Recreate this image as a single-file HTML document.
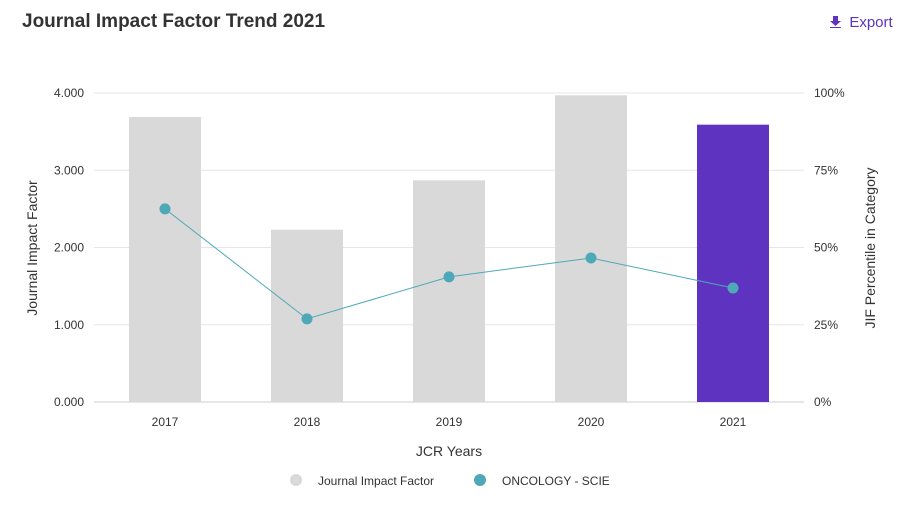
<!DOCTYPE html>
<html><head><meta charset="utf-8">
<style>
body{margin:0;width:912px;height:512px;background:#fff;font-family:"Liberation Sans",sans-serif;overflow:hidden;position:relative}
.title{position:absolute;left:22px;top:11px;font-size:19px;font-weight:bold;color:#333}
.export{position:absolute;left:830px;top:14px;font-size:15px;color:#5e33bf}
svg#c{position:absolute;left:0;top:0}
</style></head><body>
<div class="title">Journal Impact Factor Trend 2021</div>
<div class="export"><svg width="11" height="12" style="vertical-align:-1px"><path d="M3 0h5v5h3L5.5 10 0 5h3z M0 11h11v1H0z" fill="#5e33bf"/></svg>&nbsp; Export</div>
<svg id="c" width="912" height="512"></svg>
<script>
const years=["2017","2018","2019","2020","2021"];
const jif=[3.69,2.23,2.87,3.97,3.59];
const pct=[62.5,26.9,40.5,46.6,36.9];
const leftTicks=["0.000","1.000","2.000","3.000","4.000"];
const leftVals=[0,1,2,3,4];
const rightVals=[0,25,50,75,100];
const rightTicks=["0%","25%","50%","75%","100%"];
const X0=94,X1=804,Y0=402,Y1=93;
const band=(X1-X0)/years.length;
const xc=i=>X0+band*(i+0.5);
const yL=v=>Y0-(v/4)*(Y0-Y1);
const yR=v=>Y0-(v/100)*(Y0-Y1);
const svg=document.getElementById('c');const NS="http://www.w3.org/2000/svg";
function mk(t,a,txt){const e=document.createElementNS(NS,t);for(const k in a)e.setAttribute(k,a[k]);if(txt!==undefined)e.textContent=txt;svg.appendChild(e);return e;}
leftVals.forEach((v,i)=>{
 const g=mk('line',{x1:X0,x2:X1,y1:yL(v),y2:yL(v),stroke:i==0?'#ccc':'#e6e6e6'});
 
 
 const t=mk('text',{x:84,y:yL(v)+4,'text-anchor':'end','font-size':12,fill:'#333'},leftTicks[i]);
 
 
});
rightVals.forEach((v,i)=>{
 const t=mk('text',{x:814,y:yR(v)+4,'font-size':12,fill:'#333'},rightTicks[i]);
 
 
});
years.forEach((y,i)=>{
 const b=mk('rect',{x:xc(i)-36,y:yL(jif[i]),width:72,height:Y0-yL(jif[i]),fill:i==years.length-1?'#5e33bf':'#d9d9d9'});
 
 
 const t=mk('text',{x:xc(i),y:426,'text-anchor':'middle','font-size':12,fill:'#333'},y);
 
 
});
const pl=mk('polyline',{points:pct.map((p,i)=>xc(i)+','+yR(p)).join(' '),fill:'none',stroke:'#4fa8b8','stroke-width':1});


pct.forEach((p,i)=>{
 const c=mk('circle',{cx:xc(i),cy:yR(p),r:5.5,fill:'#4fa8b8'});
 
 
});
let t;
t=mk('text',{x:449,y:456,'text-anchor':'middle','font-size':14,fill:'#333'},'JCR Years');

t=mk('text',{x:0,y:0,transform:'translate(37,248) rotate(-90)','text-anchor':'middle','font-size':14,fill:'#333'},'Journal Impact Factor');

t=mk('text',{x:0,y:0,transform:'translate(875,248) rotate(-90)','text-anchor':'middle','font-size':14,fill:'#333'},'JIF Percentile in Category');

let l=mk('circle',{cx:296,cy:480,r:6,fill:'#d9d9d9'});

t=mk('text',{x:318,y:485,'font-size':12,fill:'#333'},'Journal Impact Factor');

l=mk('circle',{cx:480,cy:480,r:6,fill:'#4fa8b8'});

t=mk('text',{x:502,y:485,'font-size':12,fill:'#333'},'ONCOLOGY - SCIE');

</script>
</body></html>
